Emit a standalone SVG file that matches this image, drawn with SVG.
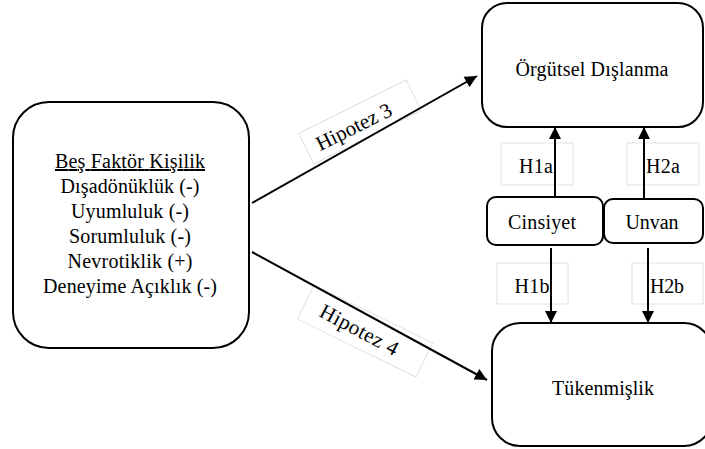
<svg xmlns="http://www.w3.org/2000/svg" width="705" height="449" viewBox="0 0 705 449">
<defs>
<marker id="ah" viewBox="0 0 10 10" refX="10" refY="5" markerWidth="14" markerHeight="12" markerUnits="userSpaceOnUse" orient="auto">
<path d="M0,0 L10,5 L0,10 z" fill="#000"/>
</marker>
</defs>
<style>
.box{fill:#fff;stroke:#000;stroke-width:2}
.lbl{fill:#fff;stroke:#e2e2e2;stroke-width:1}
.t{font-family:'Liberation Serif','Times New Roman',serif;font-size:20px;fill:#000;text-anchor:middle}
.h{font-size:21px}
</style>
<rect width="705" height="449" fill="#fff"/>
<g id="besfaktor">
<rect class="box" x="13" y="102" width="236" height="246" rx="36"/>
<text class="t" x="130" y="168" text-decoration="underline" textLength="150" lengthAdjust="spacing">Beş Faktör Kişilik</text>
<text class="t" x="130" y="193" textLength="139" lengthAdjust="spacing">Dışadönüklük (-)</text>
<text class="t" x="130" y="218" textLength="118" lengthAdjust="spacing">Uyumluluk (-)</text>
<text class="t" x="130" y="243" textLength="122" lengthAdjust="spacing">Sorumluluk (-)</text>
<text class="t" x="130" y="268" textLength="125" lengthAdjust="spacing">Nevrotiklik (+)</text>
<text class="t" x="130" y="293" textLength="174" lengthAdjust="spacing">Deneyime Açıklık (-)</text>
</g>
<g id="orgutsel">
<rect class="box" x="482" y="3" width="221" height="124" rx="25"/>
<text class="t" x="592" y="76" textLength="153" lengthAdjust="spacing">Örgütsel Dışlanma</text>
</g>
<g id="tukenmislik">
<rect class="box" x="492" y="323" width="220" height="123" rx="28"/>
<text class="t" x="603" y="395" textLength="102" lengthAdjust="spacing">Tükenmişlik</text>
</g>
<g id="cinsiyet">
<rect class="box" x="487" y="197" width="116" height="48" rx="9"/>
<text class="t" x="542" y="229" textLength="68" lengthAdjust="spacing">Cinsiyet</text>
</g>
<g id="unvan">
<rect class="box" x="604" y="199" width="99" height="44" rx="9"/>
<text class="t" x="652" y="229" textLength="53" lengthAdjust="spacing">Unvan</text>
</g>
<g id="labels">
<rect class="lbl" x="501" y="143" width="72" height="42"/>
<rect class="lbl" x="627" y="143" width="72" height="42"/>
<rect class="lbl" x="497" y="263" width="71" height="41"/>
<rect class="lbl" x="632" y="263" width="71" height="41"/>
<g transform="translate(360,122) rotate(-26.5)">
<rect class="lbl" x="-60" y="-17" width="120" height="34"/>
</g>
<g transform="translate(365,331) rotate(26)">
<rect class="lbl" x="-66" y="-19" width="132" height="38"/>
</g>
</g>
<g id="connectors">
<line x1="252" y1="203" x2="477" y2="76" stroke="#000" stroke-width="2" marker-end="url(#ah)"/>
<line x1="252" y1="252" x2="487" y2="380" stroke="#000" stroke-width="2" marker-end="url(#ah)"/>
<line x1="555" y1="197" x2="555" y2="127" stroke="#000" stroke-width="2" marker-end="url(#ah)"/>
<line x1="644" y1="200" x2="644" y2="127" stroke="#000" stroke-width="2" marker-end="url(#ah)"/>
<line x1="551" y1="248" x2="551" y2="323" stroke="#000" stroke-width="2" marker-end="url(#ah)"/>
<line x1="648" y1="248" x2="648" y2="323" stroke="#000" stroke-width="2" marker-end="url(#ah)"/>
</g>
<g id="labeltext">
<text class="t" x="536" y="173" textLength="34" lengthAdjust="spacing">H1a</text>
<text class="t" x="663" y="173" textLength="34" lengthAdjust="spacing">H2a</text>
<text class="t" x="532" y="293" textLength="35" lengthAdjust="spacing">H1b</text>
<text class="t" x="667" y="293" textLength="34" lengthAdjust="spacing">H2b</text>
<text class="t h" transform="translate(357,133) rotate(-26.5)" textLength="82" lengthAdjust="spacing">Hipotez 3</text>
<text class="t h" transform="translate(356,336) rotate(28)" textLength="86" lengthAdjust="spacing">Hipotez 4</text>
</g>
</svg>
